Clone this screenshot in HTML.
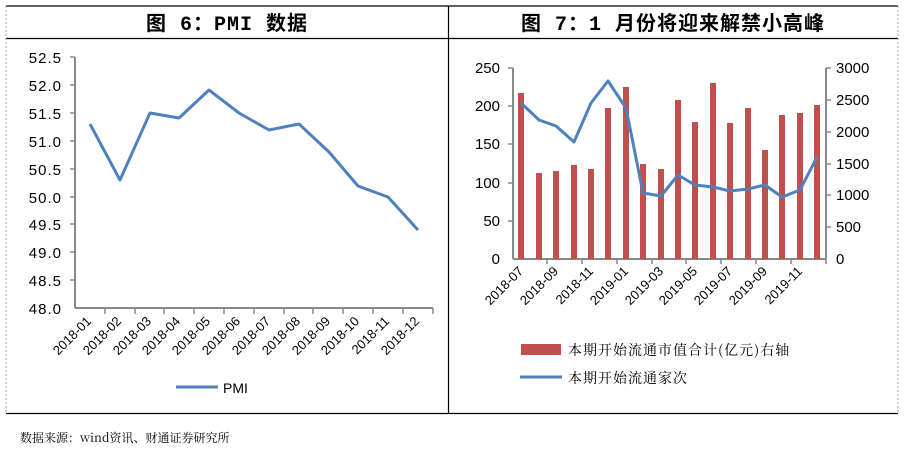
<!DOCTYPE html>
<html><head><meta charset="utf-8"><style>
body{margin:0;background:#fff;}
svg text{font-family:"Liberation Sans","Noto Sans CJK SC",sans-serif;}
.cj{font-family:"Noto Serif CJK SC","Noto Sans CJK SC",serif;}
.tt{font-family:"Liberation Mono","Noto Sans CJK SC",sans-serif;}
</style></head><body>
<svg width="904" height="452" viewBox="0 0 904 452" xmlns="http://www.w3.org/2000/svg">
<rect width="904" height="452" fill="#fff"/>
<line x1="6" y1="6" x2="898" y2="6" stroke="#000" stroke-width="1.2"/>
<line x1="6" y1="38.5" x2="898" y2="38.5" stroke="#000" stroke-width="1.2"/>
<line x1="6" y1="413.5" x2="898" y2="413.5" stroke="#000" stroke-width="1.2"/>
<line x1="448.5" y1="6" x2="448.5" y2="413" stroke="#000" stroke-width="1.2"/>
<line x1="6" y1="6" x2="6" y2="413" stroke="#aaa" stroke-dasharray="2,2"/>
<line x1="898" y1="6" x2="898" y2="413" stroke="#aaa" stroke-dasharray="2,2"/>
<text x="227" y="30" font-size="20" text-anchor="middle" class="tt" font-weight="bold" letter-spacing="1">图 6：PMI 数据</text>
<text x="673" y="30" font-size="20" text-anchor="middle" class="tt" font-weight="bold" letter-spacing="1">图 7：1 月份将迎来解禁小高峰</text>

<g stroke="#888" stroke-width="2" fill="none">
<line x1="75" y1="57" x2="75" y2="308"/>
<line x1="75" y1="308" x2="433" y2="308"/>
</g>
<g stroke="#888" stroke-width="1.5">
<line x1="70" y1="57" x2="75" y2="57"/><line x1="70" y1="85" x2="75" y2="85"/><line x1="70" y1="113" x2="75" y2="113"/><line x1="70" y1="141" x2="75" y2="141"/><line x1="70" y1="169" x2="75" y2="169"/><line x1="70" y1="197" x2="75" y2="197"/><line x1="70" y1="224" x2="75" y2="224"/><line x1="70" y1="252" x2="75" y2="252"/><line x1="70" y1="280" x2="75" y2="280"/>
<line x1="105" y1="308" x2="105" y2="314"/><line x1="135" y1="308" x2="135" y2="314"/><line x1="164" y1="308" x2="164" y2="314"/><line x1="194" y1="308" x2="194" y2="314"/><line x1="224" y1="308" x2="224" y2="314"/><line x1="254" y1="308" x2="254" y2="314"/><line x1="284" y1="308" x2="284" y2="314"/><line x1="313" y1="308" x2="313" y2="314"/><line x1="343" y1="308" x2="343" y2="314"/><line x1="373" y1="308" x2="373" y2="314"/><line x1="403" y1="308" x2="403" y2="314"/><line x1="433" y1="308" x2="433" y2="314"/>
</g>
<g font-size="15" text-anchor="end" letter-spacing="1">
<text x="62" y="63">52.5</text><text x="62" y="91">52.0</text><text x="62" y="119">51.5</text><text x="62" y="147">51.0</text><text x="62" y="175">50.5</text><text x="62" y="203">50.0</text><text x="62" y="230">49.5</text><text x="62" y="258">49.0</text><text x="62" y="286">48.5</text><text x="62" y="314">48.0</text>
</g>
<g font-size="13" text-anchor="end">
<text transform="translate(92,322) rotate(-45)">2018-01</text>
<text transform="translate(122,322) rotate(-45)">2018-02</text>
<text transform="translate(152,322) rotate(-45)">2018-03</text>
<text transform="translate(181,322) rotate(-45)">2018-04</text>
<text transform="translate(211,322) rotate(-45)">2018-05</text>
<text transform="translate(241,322) rotate(-45)">2018-06</text>
<text transform="translate(271,322) rotate(-45)">2018-07</text>
<text transform="translate(301,322) rotate(-45)">2018-08</text>
<text transform="translate(331,322) rotate(-45)">2018-09</text>
<text transform="translate(360,322) rotate(-45)">2018-10</text>
<text transform="translate(390,322) rotate(-45)">2018-11</text>
<text transform="translate(420,322) rotate(-45)">2018-12</text>
</g>
<polyline fill="none" stroke="#4f81bd" stroke-width="3" stroke-linejoin="round" points="90,124 120,180 150,113 179,118 209,90 239,113 269,130 299,124 329,152 358,186 388,197 418,230"/>
<line x1="176" y1="387" x2="218" y2="387" stroke="#4f81bd" stroke-width="3"/>
<text x="223" y="393" font-size="14">PMI</text>

<g stroke="#888" stroke-width="2" fill="none">
<line x1="513" y1="68" x2="513" y2="259"/>
<line x1="826" y1="68" x2="826" y2="259"/>
<line x1="513" y1="259" x2="826" y2="259"/>
</g>
<g stroke="#888" stroke-width="1.5">
<line x1="508" y1="68" x2="513" y2="68"/><line x1="508" y1="106" x2="513" y2="106"/><line x1="508" y1="144" x2="513" y2="144"/><line x1="508" y1="183" x2="513" y2="183"/><line x1="508" y1="221" x2="513" y2="221"/>
<line x1="826" y1="68" x2="831" y2="68"/><line x1="826" y1="100" x2="831" y2="100"/><line x1="826" y1="132" x2="831" y2="132"/><line x1="826" y1="164" x2="831" y2="164"/><line x1="826" y1="195" x2="831" y2="195"/><line x1="826" y1="227" x2="831" y2="227"/>
<line x1="547" y1="259" x2="547" y2="264"/><line x1="582" y1="259" x2="582" y2="264"/><line x1="617" y1="259" x2="617" y2="264"/><line x1="652" y1="259" x2="652" y2="264"/><line x1="686" y1="259" x2="686" y2="264"/><line x1="721" y1="259" x2="721" y2="264"/><line x1="756" y1="259" x2="756" y2="264"/><line x1="791" y1="259" x2="791" y2="264"/><line x1="826" y1="259" x2="826" y2="264"/>
</g>
<g font-size="15" text-anchor="end">
<text x="500" y="73">250</text><text x="500" y="111">200</text><text x="500" y="149">150</text><text x="500" y="188">100</text><text x="500" y="226">50</text><text x="500" y="264">0</text>
</g>
<g font-size="15" text-anchor="start">
<text x="836" y="73">3000</text><text x="836" y="105">2500</text><text x="836" y="137">2000</text><text x="836" y="169">1500</text><text x="836" y="200">1000</text><text x="836" y="232">500</text><text x="836" y="264">0</text>
</g>
<g fill="#c0504d">
<rect x="518" y="93" width="6" height="166"/>
<rect x="536" y="173" width="6" height="86"/>
<rect x="553" y="171" width="6" height="88"/>
<rect x="571" y="165" width="6" height="94"/>
<rect x="588" y="169" width="6" height="90"/>
<rect x="605" y="108" width="6" height="151"/>
<rect x="623" y="87" width="6" height="172"/>
<rect x="640" y="164" width="6" height="95"/>
<rect x="658" y="169" width="6" height="90"/>
<rect x="675" y="100" width="6" height="159"/>
<rect x="692" y="122" width="6" height="137"/>
<rect x="710" y="83" width="6" height="176"/>
<rect x="727" y="123" width="6" height="136"/>
<rect x="745" y="108" width="6" height="151"/>
<rect x="762" y="150" width="6" height="109"/>
<rect x="779" y="115" width="6" height="144"/>
<rect x="797" y="113" width="6" height="146"/>
<rect x="814" y="105" width="6" height="154"/>
</g>
<polyline fill="none" stroke="#4f81bd" stroke-width="3" stroke-linejoin="round" points="521,103 539,120 556,126 574,142 591,103 608,81 626,108 643,193 661,196 678,175 695,185 713,187 730,191 748,189 765,185 782,197 800,190 817,157"/>
<g font-size="13" text-anchor="end">
<text transform="translate(524,272) rotate(-45)">2018-07</text>
<text transform="translate(559,272) rotate(-45)">2018-09</text>
<text transform="translate(594,272) rotate(-45)">2018-11</text>
<text transform="translate(629,272) rotate(-45)">2019-01</text>
<text transform="translate(664,272) rotate(-45)">2019-03</text>
<text transform="translate(698,272) rotate(-45)">2019-05</text>
<text transform="translate(733,272) rotate(-45)">2019-07</text>
<text transform="translate(768,272) rotate(-45)">2019-09</text>
<text transform="translate(803,272) rotate(-45)">2019-11</text>
</g>
<rect x="521" y="344" width="40" height="11" fill="#c0504d"/>
<text x="568" y="355" font-size="14" class="cj" letter-spacing="1">本期开始流通市值合计(亿元)右轴</text>
<line x1="520" y1="377" x2="562" y2="377" stroke="#4f81bd" stroke-width="3"/>
<text x="568" y="383" font-size="14" class="cj" letter-spacing="1">本期开始流通家次</text>

<text x="20" y="442" font-size="12" class="cj">数据来源：wind资讯、财通证券研究所</text>
</svg>
</body></html>
